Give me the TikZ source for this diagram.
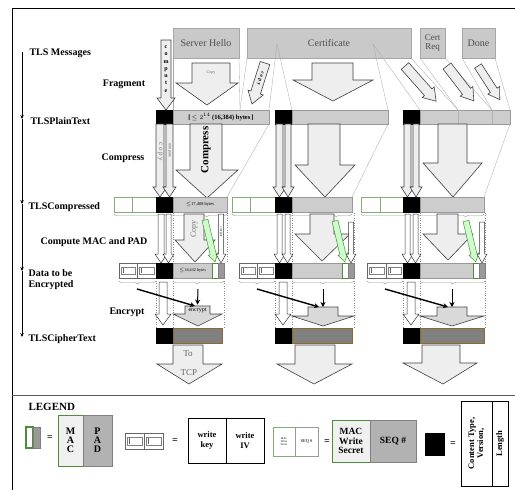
\documentclass[tikz,border=0pt]{standalone}
\usepackage{fontspec}
\setmainfont{Liberation Serif}
\usetikzlibrary{arrows.meta,decorations.pathreplacing}
\definecolor{msggray}{HTML}{C9C9C9}
\definecolor{bargray}{HTML}{CDCDCD}
\definecolor{ciphergray}{HTML}{808080}
\definecolor{cipheredge}{HTML}{8C6A2A}
\definecolor{arrowfill}{HTML}{EEEEEE}
\definecolor{macgreen}{HTML}{4E8C36}

\begin{document}
\begin{tikzpicture}[x=1pt,y=-1pt,
  phase/.style={font=\bfseries\fontsize{10}{11}\selectfont,anchor=west},
  doing/.style={font=\bfseries\fontsize{10}{11}\selectfont},
  msg/.style={draw=black!35,fill=msggray},
  msgtext/.style={font=\fontsize{10}{9}\selectfont,text=black!70,align=center},
  blk/.style={draw=black!75,fill=arrowfill,line width=.6pt},
  thinarr/.style={draw=black!80,fill=white,line width=.5pt},
  macarr/.style={draw=macgreen,fill=green!20,line width=.5pt},
  bar/.style={draw=black!40,fill=bargray},
  hdr/.style={draw=black,fill=black},
  keybox/.style={draw=macgreen!70,fill=white,line width=.4pt},
  icon/.style={draw=black!60,fill=white},
  macbox/.style={draw=macgreen,fill=white,line width=1pt},
  padbox/.style={draw=black!50,fill=black!40},
  cipher/.style={draw=cipheredge,fill=ciphergray},
  guide/.style={draw=black!35,line width=.3pt},
  dots/.style={draw=black!45,dotted,line width=.4pt},
  brc/.style={draw=black!40,decorate,decoration={brace,mirror,amplitude=3pt,aspect=#1}},
  tl/.style={line width=.8pt,-{Stealth[length=4pt,width=3.5pt]}},
  enc/.style={line width=1.4pt,-{Stealth[length=5pt,width=5pt]}},
  tiny/.style={font=\fontsize{4}{4.5}\selectfont}]
\useasboundingbox (0,0) rectangle (515,490);

% frame
\draw[line width=1pt] (12,8) -- (515,8);
\draw[line width=.6pt] (12,8) -- (12,490);
\draw[black!65,line width=1pt] (12,395) -- (515,395);

% stages on the left
\coordinate (tA) at (22,52);
\coordinate (tB) at (22,119);
\coordinate (tC) at (22,204);
\coordinate (tD) at (22,271);
\coordinate (tE) at (22,337);
\draw[tl] (tA) -- (tB);
\draw[tl] (tB) -- (tC);
\draw[tl] (tC) -- (tD);
\draw[tl] (tD) -- (tE);
\node[phase] (msgs) at (26,53) {TLS Messages};
\node[phase] (plain) at (27,121) {TLSPlainText};
\node[phase] (compd) at (25,207) {TLSCompressed};
\node[phase,align=left] (tobeenc) at (25,280) {Data to be\\Encrypted};
\node[phase] (ciph) at (25,339) {TLSCipherText};
\node[doing] (frag) at (124,84) {Fragment};
\node[doing] (cmpr) at (123,158) {Compress};
\node[doing] (mac) at (94,242) {Compute MAC and PAD};
\node[doing] (encr) at (127,312) {Encrypt};

% messages
\draw[msg] (173,28) rectangle (239,58);
\node[msgtext] (hello) at (206,43) {Server Hello};
\draw[msg] (247,28) rectangle (411,58);
\node[msgtext] (cert) at (329,43) {Certificate};
\draw[msg] (420,28) rectangle (445,58);
\node[msgtext,font=\fontsize{9}{8.5}\selectfont,inner sep=1pt] (creq) at (432.5,43) {Cert\\Req};
\draw[msg] (462,28) rectangle (495,58);
\node[msgtext] (done) at (478.5,43) {Done};

% guide lines
\draw[guide] (173,58) -- (173,110);
\draw[guide] (239,58) -- (240,110);
\draw[guide] (247,58) -- (240,110);
\draw[guide] (277,44) -- (269,110);
\draw[guide] (277,44) -- (292,110);
\draw[guide] (373,44) -- (388,110);
\draw[guide] (373,44) -- (420,110);
\draw[guide] (411,58) -- (458,110);
\draw[guide] (420,58) -- (458,110);
\draw[guide] (445,58) -- (492,110);
\draw[guide] (462,58) -- (492,110);
\draw[guide] (495,58) -- (510,110);
\draw[guide] (269,124) -- (227,197);
\draw[guide] (388,124) -- (352,197);
\draw[guide] (510,124) -- (484,197);

% fragment
\draw[blk] (161,40) -- (171,40) -- (171,98) -- (175,98) -- (166,110) -- (157,98) -- (161,98) -- cycle;
\node[font=\bfseries\fontsize{6}{7.3}\selectfont,align=center,inner sep=0pt] (computeA) at (166,69) {c\\o\\m\\p\\u\\t\\e};
\draw[blk] (192,63) -- (230,63) -- (230,83) -- (238,83) -- (207,105) -- (176,83) -- (192,83) -- cycle;
\node[tiny,text=black!60] (copyA) at (211,73) {Copy};
\begin{scope}[shift={(265,63)},rotate=-17.6]
\draw[blk] (-5,0) -- (5,0) -- (5,31) -- (8,31) -- (0,43) -- (-8,31) -- (-5,31) -- cycle;
\node[font=\bfseries\fontsize{5}{5}\selectfont,rotate=-107.6] (copyB) at (0,16) {c o p y};
\end{scope}
\draw[blk] (312,63) -- (353,63) -- (353,80) -- (373,80) -- (333,101) -- (293,80) -- (312,80) -- cycle;
\begin{scope}[shift={(405,66)},rotate=41.5]
\draw[blk] (-5,0) -- (5,0) -- (5,35) -- (8,35) -- (0,47) -- (-8,35) -- (-5,35) -- cycle;
\end{scope}
\begin{scope}[shift={(447,66)},rotate=37.6]
\draw[blk] (-5,0) -- (5,0) -- (5,32) -- (8,32) -- (0,44) -- (-8,32) -- (-5,32) -- cycle;
\end{scope}
\begin{scope}[shift={(478,66)},rotate=32.9]
\draw[blk] (-4,0) -- (4,0) -- (4,29) -- (7,29) -- (0,40) -- (-7,29) -- (-4,29) -- cycle;
\end{scope}

% TLSPlainText
\draw[hdr] (156,110) rectangle (173,124);
\draw[bar] (173,110) rectangle (269,124);
\node[font=\bfseries\fontsize{6.5}{7}\selectfont] (lenA) at (221,117) {[\,$\leq 2^{14}$ (16,384) bytes\,]};
\draw[hdr] (275,110) rectangle (292,124);
\draw[bar] (292,110) rectangle (388,124);
\draw[hdr] (403,110) rectangle (420,124);
\draw[bar] (420,110) rectangle (510,124);
\draw[black!30] (458,110) -- (458,124);
\draw[black!30] (492,110) -- (492,124);

% compress
\draw[blk] (156,124) -- (164,124) -- (164,187) -- (167,187) -- (160,197) -- (153,187) -- (156,187) -- cycle;
\node[font=\fontsize{7}{7}\selectfont,text=black!55,rotate=-90] (copyC) at (160,152) {c o p y};
\draw[blk] (166,124) -- (173,124) -- (173,187) -- (176,187) -- (169.5,197) -- (163,187) -- (166,187) -- cycle;
\node[font=\fontsize{4}{4}\selectfont,text=black!70,rotate=-90] (computeB) at (169.5,150) {compute};
\draw[blk] (190,124) -- (222,124) -- (222,170) -- (238,170) -- (207,198) -- (176,170) -- (190,170) -- cycle;
\node[font=\bfseries\fontsize{11}{11}\selectfont,rotate=90] (cmprA) at (206,150) {Compress};
\draw[blk] (276,124) -- (283,124) -- (283,187) -- (286,187) -- (279.5,197) -- (273,187) -- (276,187) -- cycle;
\draw[blk] (285,124) -- (291,124) -- (291,187) -- (294,187) -- (288,197) -- (282,187) -- (285,187) -- cycle;
\draw[blk] (308,124) -- (340,124) -- (340,165) -- (355,165) -- (325,197) -- (295,165) -- (308,165) -- cycle;
\draw[blk] (404,124) -- (411,124) -- (411,187) -- (414,187) -- (407.5,197) -- (401,187) -- (404,187) -- cycle;
\draw[blk] (413,124) -- (419,124) -- (419,187) -- (422,187) -- (416,197) -- (410,187) -- (413,187) -- cycle;
\draw[blk] (438,124) -- (467,124) -- (467,163) -- (482,163) -- (453,197) -- (423,163) -- (438,163) -- cycle;

% TLSCompressed
\draw[keybox] (114,197) rectangle (132,212);
\draw[keybox] (132,197) rectangle (156,212);
\draw[hdr] (156,197) rectangle (173,212);
\draw[bar] (173,197) rectangle (227,212);
\node[font=\fontsize{4.5}{5}\selectfont] (lenB) at (200,204.5) {$\leq$17,408 bytes};
\draw[brc=0.82] (114,214) -- (227,214);
\draw[keybox] (232,197) rectangle (250,212);
\draw[keybox] (250,197) rectangle (275,212);
\draw[hdr] (275,197) rectangle (292,212);
\draw[bar] (292,197) rectangle (352,212);
\draw[brc=0.87] (232,214) -- (352,214);
\draw[keybox] (361,197) rectangle (380,212);
\draw[keybox] (380,197) rectangle (403,212);
\draw[hdr] (403,197) rectangle (420,212);
\draw[bar] (420,197) rectangle (484,212);
\draw[brc=0.85] (361,214) -- (484,214);

% compute MAC and PAD
\draw[dots] (173,213) -- (173,263);
\draw[dots] (227,213) -- (227,263);
\draw[dots] (292,213) -- (292,263);
\draw[dots] (354,213) -- (354,263);
\draw[dots] (420,213) -- (420,263);
\draw[dots] (485,213) -- (485,263);
\draw[thinarr] (158,214) -- (164,214) -- (164,254) -- (167,254) -- (161,263) -- (155,254) -- (158,254) -- cycle;
\draw[thinarr] (166,214) -- (171,214) -- (171,254) -- (174,254) -- (168.5,263) -- (163,254) -- (166,254) -- cycle;
\draw[blk] (184,214) -- (204,214) -- (204,240) -- (215,240) -- (195,262) -- (175,240) -- (184,240) -- cycle;
\node[font=\fontsize{8}{8}\selectfont,text=black!55,rotate=90] (copyD) at (194,229) {Copy};
\begin{scope}[shift={(205,220)},rotate=13.4]
\draw[macarr] (-3,0) -- (3,0) -- (3,35) -- (5,35) -- (0,43) -- (-5,35) -- (-3,35) -- cycle;
\end{scope}
\draw[thinarr] (218.5,214) -- (223.5,214) -- (223.5,254) -- (226,254) -- (221,263) -- (216,254) -- (218.5,254) -- cycle;
\node[font=\fontsize{3}{3}\selectfont,rotate=-90] (computeC) at (221,232) {compute};
\draw[thinarr] (277,214) -- (282,214) -- (282,254) -- (285,254) -- (279.5,263) -- (274,254) -- (277,254) -- cycle;
\draw[thinarr] (285,214) -- (290,214) -- (290,254) -- (293,254) -- (287.5,263) -- (282,254) -- (285,254) -- cycle;
\draw[blk] (310,214) -- (334,214) -- (334,234) -- (350,234) -- (322,261) -- (295,234) -- (310,234) -- cycle;
\begin{scope}[shift={(335,221)},rotate=13.4]
\draw[macarr] (-3,0) -- (3,0) -- (3,34) -- (5,34) -- (0,42) -- (-5,34) -- (-3,34) -- cycle;
\end{scope}
\draw[thinarr] (348.5,222) -- (353.5,222) -- (353.5,254) -- (356,254) -- (351,263) -- (346,254) -- (348.5,254) -- cycle;
\draw[thinarr] (405,214) -- (410,214) -- (410,254) -- (413,254) -- (407.5,263) -- (402,254) -- (405,254) -- cycle;
\draw[thinarr] (413,214) -- (418,214) -- (418,254) -- (421,254) -- (415.5,263) -- (410,254) -- (413,254) -- cycle;
\draw[blk] (437,214) -- (458,214) -- (458,234) -- (473,234) -- (448,260) -- (423,234) -- (437,234) -- cycle;
\begin{scope}[shift={(466,221)},rotate=13.4]
\draw[macarr] (-3,0) -- (3,0) -- (3,34) -- (5,34) -- (0,42) -- (-5,34) -- (-3,34) -- cycle;
\end{scope}
\draw[thinarr] (479.5,222) -- (484.5,222) -- (484.5,254) -- (487,254) -- (482,263) -- (477,254) -- (479.5,254) -- cycle;

% data to be encrypted
\draw[icon] (119,263) rectangle (137,278);
\draw[black!50] (121,267) rectangle (135,274);
\draw[black!60] (123.5,268) -- (123.5,273);
\draw[icon] (137,263) rectangle (156,278);
\draw[black!50] (139,267) rectangle (154,274);
\draw[black!60] (141.5,268) -- (141.5,273);
\draw[hdr] (156,263) rectangle (173,278);
\draw[bar] (173,263) rectangle (212,278);
\node[font=\fontsize{4.2}{5}\selectfont] (lenC) at (192.5,270.5) {$\leq$18,432 bytes};
\draw[macbox] (212,263) rectangle (218,278);
\draw[padbox] (218,263) rectangle (224,278);
\draw[icon] (239,263) rectangle (257,278);
\draw[black!50] (241,267) rectangle (255,274);
\draw[black!60] (243.5,268) -- (243.5,273);
\draw[icon] (257,263) rectangle (275,278);
\draw[black!50] (259,267) rectangle (273,274);
\draw[black!60] (261.5,268) -- (261.5,273);
\draw[hdr] (275,263) rectangle (292,278);
\draw[bar] (292,263) rectangle (342,278);
\draw[macbox] (342,263) rectangle (348,278);
\draw[padbox] (348,263) rectangle (354,278);
\draw[icon] (367,263) rectangle (386,278);
\draw[black!50] (369,267) rectangle (384,274);
\draw[black!60] (371.5,268) -- (371.5,273);
\draw[icon] (386,263) rectangle (403,278);
\draw[black!50] (388,267) rectangle (401,274);
\draw[black!60] (390.5,268) -- (390.5,273);
\draw[hdr] (403,263) rectangle (420,278);
\draw[bar] (420,263) rectangle (473,278);
\draw[macbox] (473,263) rectangle (479,278);
\draw[padbox] (479,263) rectangle (485,278);

% encrypt
\draw[brc=0.5] (119,281) -- (156,281);
\draw[brc=0.47] (173,281) -- (224,281);
\draw[brc=0.5] (239,281) -- (275,281);
\draw[brc=0.5] (292,281) -- (354,281);
\draw[brc=0.5] (367,281) -- (403,281);
\draw[brc=0.5] (420,281) -- (485,281);
\draw[dots] (156,281) -- (156,328);
\draw[dots] (173,281) -- (173,328);
\draw[dots] (224,281) -- (224,328);
\draw[dots] (275,281) -- (275,328);
\draw[dots] (292,281) -- (292,328);
\draw[dots] (354,281) -- (354,328);
\draw[dots] (403,281) -- (403,328);
\draw[dots] (420,281) -- (420,328);
\draw[dots] (485,281) -- (485,328);
\draw[thinarr] (159,282) -- (167,282) -- (167,314) -- (171,314) -- (163,325) -- (155,314) -- (159,314) -- cycle;
\draw[thinarr] (279,282) -- (287,282) -- (287,314) -- (291,314) -- (283,325) -- (275,314) -- (279,314) -- cycle;
\draw[thinarr] (407,282) -- (415,282) -- (415,314) -- (419,314) -- (411,325) -- (403,314) -- (407,314) -- cycle;
\draw[blk,fill=black!15] (185,306) -- (210,306) -- (210,314) -- (222,314) -- (198,326) -- (173,314) -- (185,314) -- cycle;
\node[font=\fontsize{6}{6}\selectfont] (encA) at (197.5,310.5) {encrypt};
\draw[blk,fill=black!15] (308,307) -- (338,307) -- (338,316) -- (354,316) -- (323,326) -- (292,316) -- (308,316) -- cycle;
\draw[blk,fill=black!15] (437,307) -- (467,307) -- (467,316) -- (484,316) -- (452,326) -- (420,316) -- (437,316) -- cycle;
\coordinate (kA) at (137,289);
\coordinate (pA) at (198,289);
\coordinate (kB) at (257,289);
\coordinate (pB) at (323,289);
\coordinate (kC) at (385,289);
\coordinate (pC) at (452,289);
\draw[enc] (kA) -- (195,306);
\draw[enc,line width=1pt] (pA) -- (encA.north);
\draw[enc] (kB) -- (319,307);
\draw[enc,line width=1pt] (pB) -- (323,307);
\draw[enc] (kC) -- (448,307);
\draw[enc,line width=1pt] (pC) -- (452,307);

% TLSCipherText
\draw[hdr] (156,328) rectangle (173,343);
\draw[cipher] (173,328) rectangle (222,343);
\draw[hdr] (275,328) rectangle (292,343);
\draw[cipher] (292,328) rectangle (352,343);
\draw[hdr] (403,328) rectangle (420,343);
\draw[cipher] (420,328) rectangle (484,343);

% to TCP
\draw[blk] (173,345) -- (203,345) -- (203,364) -- (222,364) -- (189,384) -- (157,364) -- (173,364) -- cycle;
\node[font=\fontsize{9}{9}\selectfont,text=black!60] (toA) at (188,354) {To};
\node[font=\fontsize{9}{9}\selectfont,text=black!60] (tcpA) at (189,373) {TCP};
\draw[blk] (295,345) -- (335,345) -- (335,364) -- (352,364) -- (314,384) -- (277,364) -- (295,364) -- cycle;
\draw[blk] (422,345) -- (460,345) -- (460,363) -- (477,363) -- (443,384) -- (403,363) -- (422,363) -- cycle;

% legend
\node[font=\bfseries\fontsize{11}{12}\selectfont,anchor=west] (legend) at (25,407) {LEGEND};
\draw[macbox,line width=1.2pt] (26,427) rectangle (33,448);
\draw[padbox] (33,427) rectangle (40,448);
\node[font=\bfseries\fontsize{10}{10}\selectfont] (eqA) at (50,438) {=};
\draw[macbox,line width=.6pt,fill=black!6] (58,415) rectangle (83,466);
\draw[padbox,fill=black!30] (83,415) rectangle (112,466);
\node[font=\bfseries\fontsize{10}{9}\selectfont,align=center] (macL) at (70.5,440.5) {M\\A\\C};
\node[font=\bfseries\fontsize{10}{9}\selectfont,align=center] (padL) at (97.5,440.5) {P\\A\\D};
\draw[icon] (125,433) rectangle (144,449);
\draw[black!50] (127,437) rectangle (142,445);
\draw[black!60] (129.5,438) -- (129.5,444);
\draw[icon] (144,433) rectangle (163,449);
\draw[black!50] (146,437) rectangle (161,445);
\draw[black!60] (148.5,438) -- (148.5,444);
\node[font=\bfseries\fontsize{10}{10}\selectfont] (eqB) at (175,441) {=};
\draw[black,line width=.6pt] (188,418) rectangle (226,463);
\draw[black,line width=.6pt] (226,418) rectangle (264,463);
\node[font=\bfseries\fontsize{8.5}{10}\selectfont,align=center] (wkey) at (207,440.5) {write\\key};
\node[font=\bfseries\fontsize{8.5}{10}\selectfont,align=center] (wiv) at (245,440.5) {write\\IV};
\draw[keybox] (273,427) rectangle (295,456);
\draw[icon,draw=black!40] (295,427) rectangle (318,456);
\node[font=\fontsize{2.8}{3}\selectfont,align=center] (mwsS) at (284,441.5) {MAC\\Write\\Secret};
\node[font=\fontsize{4.5}{5}\selectfont] (seqS) at (306.5,441.5) {SEQ \#};
\node[font=\bfseries\fontsize{10}{10}\selectfont] (eqC) at (327,442) {=};
\draw[macbox,line width=.6pt,fill=black!6] (332,420) rectangle (370,462);
\draw[padbox,fill=black!30] (370,420) rectangle (416,462);
\node[font=\bfseries\fontsize{9.5}{9.5}\selectfont,align=center] (mws) at (351,441) {MAC\\Write\\Secret};
\node[font=\bfseries\fontsize{9.5}{10}\selectfont] (seq) at (393,441) {SEQ \#};
\draw[hdr] (425,433) rectangle (444,455);
\node[font=\bfseries\fontsize{10}{10}\selectfont] (eqD) at (453,444) {=};
\draw[black,line width=.6pt] (461,401) rectangle (492,486);
\draw[black,line width=.6pt] (492,401) rectangle (508,486);
\node[font=\bfseries\fontsize{8.5}{9}\selectfont,align=center,rotate=90] (ctv) at (476.5,443.5) {Content Type,\\Version,};
\node[font=\bfseries\fontsize{8.5}{9}\selectfont,rotate=90] (lng) at (500,443.5) {Length};
\end{tikzpicture}
\end{document}
